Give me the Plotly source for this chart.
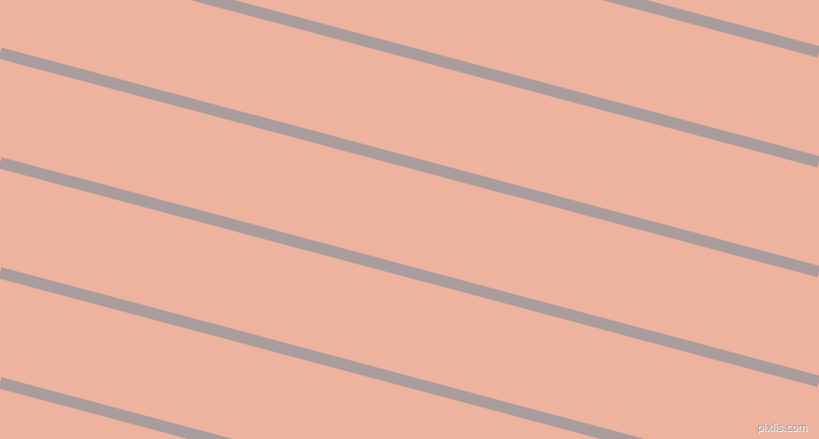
import plotly.graph_objects as go

# stripe positions (y, pixel units) at the left and right edges
x_left = 0
x_right = 819
y_left = [-166.7, -56.7, 53.0, 162.7, 272.7, 382.7]
y_right = [52.0, 162.0, 271.7, 381.4, 491.4, 601.4]

bg_color = "#EEB39F"
stripe_color = "#A99C9C"

fig = go.Figure()
for yl, yr in zip(y_left, y_right):
    fig.add_trace(go.Scatter(
        x=[x_left, x_right], y=[yl, yr], mode="lines",
        line=dict(color=stripe_color, width=11.5),
        hoverinfo="skip", showlegend=False,
    ))

fig.add_annotation(
    x=1, y=0, xref="paper", yref="paper", xanchor="right", yanchor="bottom",
    xshift=-10, yshift=4, text="pixlis.com", showarrow=False,
    font=dict(family="DejaVu Sans", size=10, color="#A89C9C",
              shadow="1px 1px 0px white"),
)

fig.update_layout(
    width=819, height=439,
    margin=dict(l=0, r=0, t=0, b=0),
    paper_bgcolor=bg_color, plot_bgcolor=bg_color,
    xaxis=dict(range=[0, 819], visible=False, fixedrange=True),
    yaxis=dict(range=[439, 0], visible=False, fixedrange=True),
    showlegend=False,
)

post = ("document.body.style.margin='0';document.body.style.padding='0';"
        "document.body.style.overflow='hidden';"
        "document.body.style.background='%s';" % bg_color)
fig.write_html("out.html", config={"displayModeBar": False}, post_script=post)
